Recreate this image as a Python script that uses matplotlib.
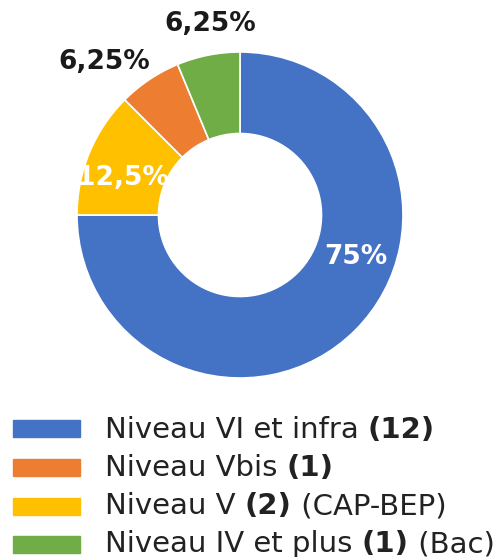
import matplotlib
matplotlib.use("Agg")
import matplotlib.pyplot as plt
import matplotlib.patches as mpatches

# data (legend order)
categories = ["Niveau VI et infra", "Niveau Vbis", "Niveau V", "Niveau IV et plus"]
counts = [12, 1, 2, 1]
suffixes = ["", "", " (CAP-BEP)", " (Bac)"]
colors = ["#4472C4", "#ED7D31", "#FFC000", "#70AD47"]
# order of wedges clockwise from 12 o'clock
draw_order = [0, 2, 1, 3]

W, H = 504, 557
plt.rcParams['font.family'] = ['DejaVu Sans']

fig = plt.figure(figsize=(W / 100, H / 100), dpi=100)

# donut centre (240, 215) px, outer radius 163 px
cx, cy, R = 240, 215, 163
ax = fig.add_axes([(cx - R) / W, (H - cy - R) / H, 2 * R / W, 2 * R / H])

vals = [counts[i] for i in draw_order]
cols = [colors[i] for i in draw_order]
wedges, _ = ax.pie(vals, colors=cols, startangle=90, counterclock=False,
                   radius=1, wedgeprops=dict(width=0.5, edgecolor="white", linewidth=1.2))
ax.set_xlim(-1, 1)
ax.set_ylim(-1, 1)
ax.set_aspect("auto")
ax.axis("off")

total = sum(counts)
def pct_text(c):
    return f"{100 * c / total:g}".replace(".", ",") + "%"

# label placement (data coords of the axes), per legend index
label_pos = {0: (0.71, -0.26), 1: (-0.83, 0.94), 2: (-0.72, 0.23), 3: (-0.18, 1.17)}
label_col = {0: "white", 1: "#1a1a1a", 2: "white", 3: "#1a1a1a"}
for i in range(len(counts)):
    x, y = label_pos[i]
    ax.text(x, y, pct_text(counts[i]), ha="center", va="center", fontsize=19,
            fontweight="semibold", color=label_col[i], clip_on=False)

# legend drawn by hand to allow bold counts
fig.canvas.draw()
renderer = fig.canvas.get_renderer()
box_centers = [428, 467, 506, 544]
baselines = [438, 476, 514, 552]
for i, name in enumerate(categories):
    yc = box_centers[i]
    fig.patches.append(mpatches.Rectangle((13 / W, 1 - (yc + 8.5) / H), 67 / W, 17 / H,
                                          transform=fig.transFigure, color=colors[i]))
    xpos = 105
    parts = [(name + " ", "normal"), (f"({counts[i]})", "bold"), (suffixes[i], "normal")]
    for txt, wt in parts:
        if not txt:
            continue
        t = fig.text(xpos / W, 1 - baselines[i] / H, txt, fontsize=21, fontweight=wt,
                     color="#222222", ha="left", va="baseline")
        bb = t.get_window_extent(renderer)
        xpos += bb.width

fig.savefig("out.png", dpi=100)
